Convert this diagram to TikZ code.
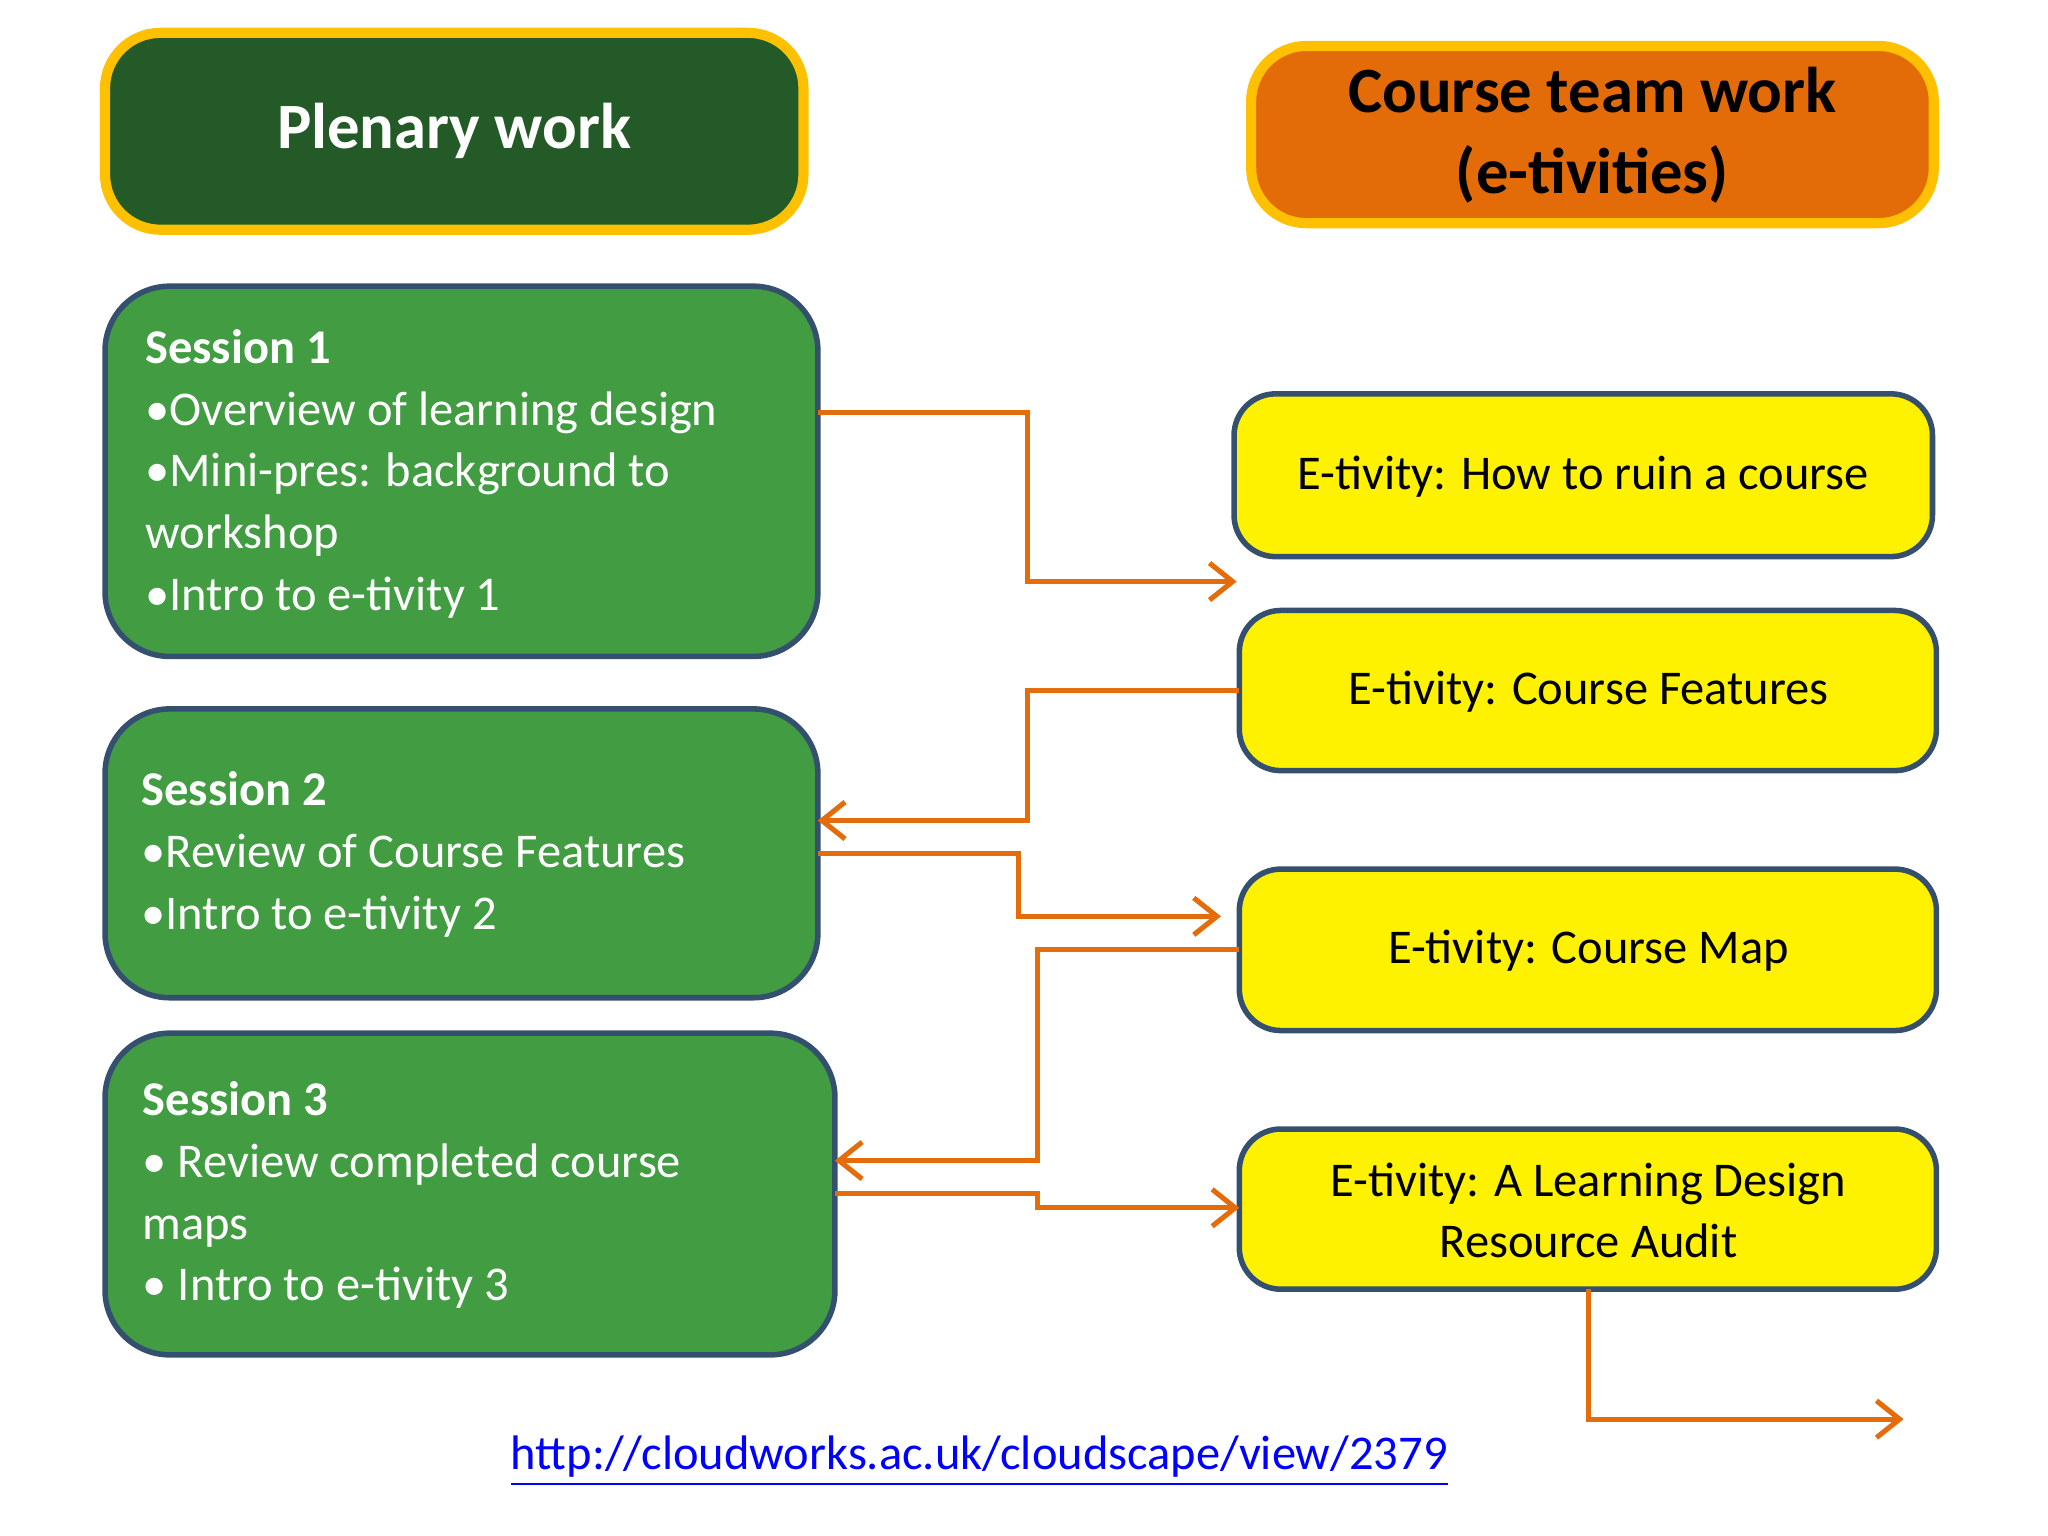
\documentclass[tikz,border=0pt]{standalone}
\usepackage{fontspec}
\setmainfont{Carlito}
\usetikzlibrary{arrows.meta,calc}
\definecolor{darkgreen}{HTML}{235A27}
\definecolor{sessgreen}{HTML}{419C42}
\definecolor{teamorange}{HTML}{E36C09}
\definecolor{gold}{HTML}{FFC000}
\definecolor{edgeblue}{HTML}{34506E}
\definecolor{linkorange}{HTML}{E46C0A}
\tikzset{
    header/.style={draw=gold,line width=2.2pt,rounded corners=12pt},
    session/.style={draw=edgeblue,fill=sessgreen,line width=1.2pt,rounded corners=14pt},
    etivity/.style={draw=edgeblue,fill=yellow,line width=1.2pt,rounded corners=9pt},
    flow/.style={draw=linkorange,line width=1.1pt,-{Straight Barb[length=5pt,width=8pt]}},
    txt/.style={anchor=north west,align=left,inner sep=0pt,font=\fontsize{10.5}{13.4}\selectfont},
}
\begin{document}
\begin{tikzpicture}[x=0.01cm,y=-0.01cm]
\useasboundingbox (0,0) rectangle (1560,1170);
% headers
\draw[header,fill=darkgreen] (80,25) rectangle (612,175);
\node[text=white,font=\fontsize{14}{17}\selectfont\bfseries] (plenary) at (346,100) {Plenary work};
\draw[header,fill=teamorange] (953,35) rectangle (1473,170);
\node[align=center,font=\fontsize{14}{17.5}\selectfont\bfseries] (team) at (1213,103) {Course team work\\(e-tivities)};
% sessions
\draw[session] (80,218) rectangle (623,500) node[pos=0] (s1nw) {};
\node[txt,text=white] (s1) at (110,250) {\textbf{Session 1}\\•Overview of learning design\\•Mini-pres: background to\\workshop\\•Intro to e-tivity 1};
\coordinate (s1a) at (623,314);
\draw[session] (80,540) rectangle (623,760);
\node[txt,text=white] (s2) at (107,587) {\textbf{Session 2}\\•Review of Course Features\\•Intro to e-tivity 2};
\coordinate (s2in) at (623,625);
\coordinate (s2out) at (623,650);
\draw[session] (80,787) rectangle (636,1032);
\node[txt,text=white] (s3) at (108,823) {\textbf{Session 3}\\• Review completed course\\maps\\• Intro to e-tivity 3};
\coordinate (s3in) at (636,884);
\coordinate (s3out) at (636,909);
% e-tivities
\draw[etivity] (940,300) rectangle (1472,424);
\node[font=\fontsize{10.5}{13.4}\selectfont] (e1) at (1206,363) {E-tivity: How to ruin a course};
\coordinate (e1in) at (942,443);
\draw[etivity] (944,465) rectangle (1475,587);
\node[font=\fontsize{10.5}{13.4}\selectfont] (e2) at (1210,527) {E-tivity: Course Features};
\coordinate (e2w) at (944,526);
\draw[etivity] (944,662) rectangle (1475,785);
\node[font=\fontsize{10.5}{13.4}\selectfont] (e3) at (1210,724) {E-tivity: Course Map};
\coordinate (e3in) at (930,698);
\coordinate (e3w) at (944,723);
\draw[etivity] (944,860) rectangle (1475,982);
\node[align=center,font=\fontsize{10.5}{13.4}\selectfont] (e4) at (1210,922) {E-tivity: A Learning Design\\Resource Audit};
\coordinate (e4w) at (944,920);
\coordinate (e4s) at (1210,982);
\coordinate (next) at (1450,1081);
% links
\draw[flow] (s1a) -| (783,380) |- (e1in);
\draw[flow] (e2w) -| (783,580) |- (s2in);
\draw[flow] (s2out) -| (776,680) |- (e3in);
\draw[flow] (e3w) -| (790,800) |- (s3in);
\draw[flow] (s3out) -| (790,915) |- (e4w);
\draw[flow] (e4s) |- (next);
\node[text=blue,font=\fontsize{10.5}{13.4}\selectfont] (url) at (746,1113) {\underline{http://cloudworks.ac.uk/cloudscape/view/2379}};
\end{tikzpicture}
\end{document}
